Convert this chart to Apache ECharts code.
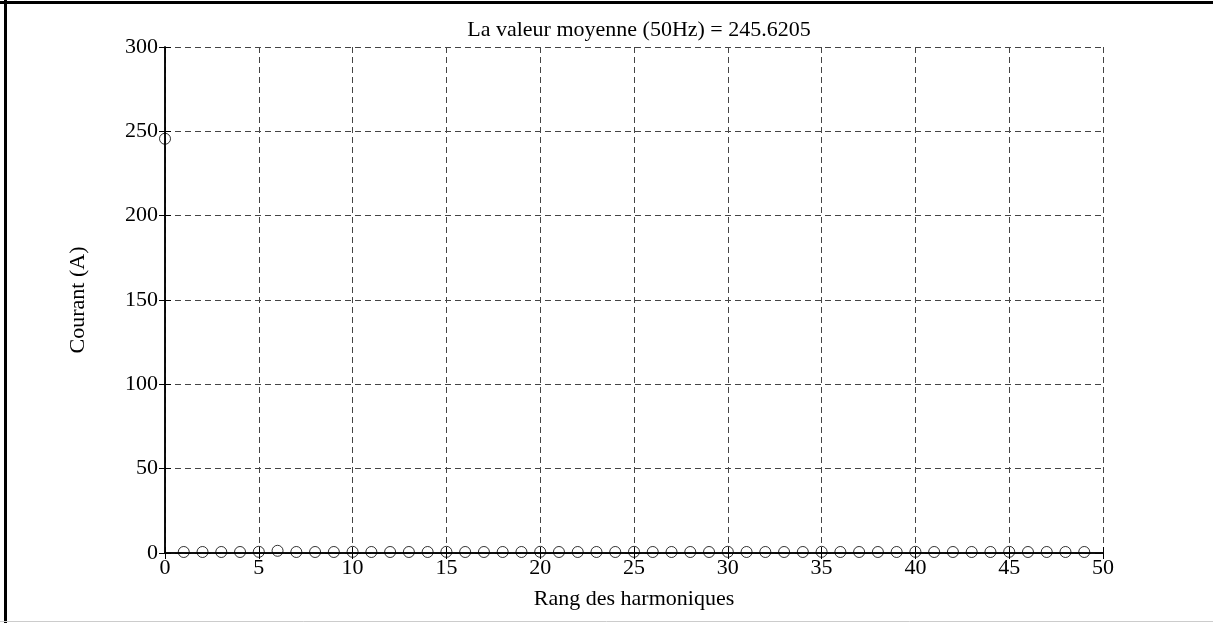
<!DOCTYPE html>
<html>
<head>
<meta charset="utf-8">
<script src="https://cdn.jsdelivr.net/npm/echarts@6/dist/echarts.min.js"></script>
<style>
  html, body { margin: 0; padding: 0; background: #fff; }
  #chart { width: 1213px; height: 623px; }
</style>
</head>
<body>
<div id="chart"></div>
<script>
// rang des harmoniques 0..49
var harmoniques = [];
for (var i = 0; i < 50; i++) harmoniques.push(i);
// courant (A)
var courant = [245.6, 0.6, 0.6, 0.6, 0.6, 0.7, 1.3, 0.6, 0.6, 0.6,
               0.7, 0.6, 0.6, 0.6, 0.6, 0.7, 0.6, 0.6, 0.6, 0.6,
               0.7, 0.6, 0.6, 0.6, 0.6, 0.7, 0.6, 0.6, 0.6, 0.6,
               0.7, 0.6, 0.6, 0.6, 0.6, 0.7, 0.6, 0.6, 0.6, 0.6,
               0.7, 0.6, 0.6, 0.6, 0.6, 0.7, 0.6, 0.6, 0.6, 0.6];
var titre = 'La valeur moyenne (50Hz) = 245.6205';

var police = '"Liberation Serif", "Times New Roman", serif';

var chart = echarts.init(document.getElementById('chart'));

var axeNoir = { show: true, lineStyle: { color: '#000', width: 1.5 } };
var grille = { show: true, lineStyle: { color: '#444', type: [6, 4], width: 1 } };
var tick = { show: true, inside: true, length: 6, lineStyle: { color: '#000' } };

var option = {
    backgroundColor: '#fff',
    animation: false,
    title: {
        text: titre,
        left: 634,
        textAlign: 'center',
        top: 14,
        textStyle: { fontFamily: police, fontSize: 22, fontWeight: 'normal', color: '#000' }
    },
    grid: { left: 165, right: 110, top: 47, bottom: 70 },
    xAxis: [
        {
            type: 'value', min: 0, max: 50, interval: 5,
            name: 'Rang des harmoniques', nameLocation: 'middle', nameGap: 35,
            nameTextStyle: { fontFamily: police, fontSize: 22, color: '#000' },
            axisLine: axeNoir,
            axisTick: tick,
            axisLabel: { fontFamily: police, fontSize: 22, color: '#000', margin: 4 },
            splitLine: grille
        },
        {
            type: 'value', min: 0, max: 50, interval: 5, position: 'top',
            axisLine: axeNoir,
            axisTick: tick,
            axisLabel: { show: false },
            splitLine: { show: false }
        }
    ],
    yAxis: [
        {
            type: 'value', min: 0, max: 300, interval: 50,
            name: 'Courant (A)', nameLocation: 'middle', nameGap: 76, nameRotate: 90,
            nameTextStyle: { fontFamily: police, fontSize: 22, color: '#000' },
            axisLine: axeNoir,
            axisTick: tick,
            axisLabel: { fontFamily: police, fontSize: 22, color: '#000', margin: 7 },
            splitLine: grille
        },
        {
            type: 'value', min: 0, max: 300, interval: 50, position: 'right',
            axisLine: axeNoir,
            axisTick: tick,
            axisLabel: { show: false },
            splitLine: { show: false }
        }
    ],
    graphic: [
        { type: 'line', shape: { x1: 5.5, y1: 0, x2: 5.5, y2: 623 }, style: { stroke: '#000', lineWidth: 3 } },
        { type: 'line', shape: { x1: 0, y1: 2.5, x2: 1213, y2: 2.5 }, style: { stroke: '#000', lineWidth: 3 } },
        { type: 'line', shape: { x1: 0, y1: 621.5, x2: 1213, y2: 621.5 }, style: { stroke: '#ccc', lineWidth: 1 } }
    ],
    series: [
        {
            type: 'scatter',
            data: harmoniques.map(function (h, i) { return [h, courant[i]]; }),
            symbol: 'circle',
            symbolSize: 11,
            clip: false,
            itemStyle: { color: 'transparent', borderColor: '#000', borderWidth: 1 },
            emphasis: { disabled: true }
        }
    ]
};

chart.setOption(option);
</script>
</body>
</html>
